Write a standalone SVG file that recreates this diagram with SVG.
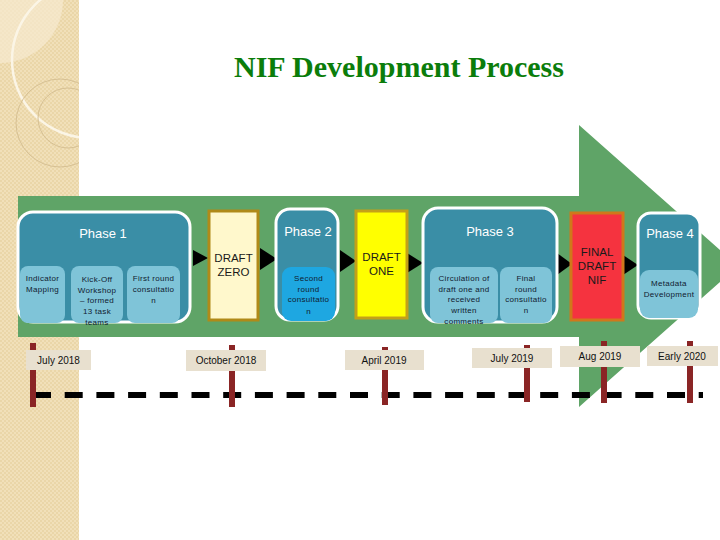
<svg xmlns="http://www.w3.org/2000/svg" width="720" height="540" viewBox="0 0 720 540">
<defs>
<pattern id="weave" width="4" height="4" patternUnits="userSpaceOnUse">
<rect width="4" height="4" fill="#f1e0b9"/>
<rect width="2" height="2" fill="#ead6a8"/>
<rect x="2" y="2" width="2" height="2" fill="#ead6a8"/>
</pattern>
<clipPath id="side"><rect x="0" y="0" width="79" height="540"/></clipPath>
<style>
.phase{fill:#3a8ea6;stroke:#ffffff;stroke-width:3}
.sub{fill:#7fc4d8}
.subb{fill:#1ea7e1}
.ptitle{font-family:"Liberation Sans",Arial,sans-serif;font-size:13px;fill:#ffffff;text-anchor:middle}
.st{font-family:"Liberation Sans",Arial,sans-serif;font-size:8px;letter-spacing:0.3px;fill:#102030;text-anchor:middle}
.draft{font-family:"Liberation Sans",Arial,sans-serif;font-size:11.5px;fill:#1a1a1a;text-anchor:middle}
.date{font-family:"Liberation Sans",Arial,sans-serif;font-size:10px;fill:#111111;text-anchor:middle}
.lbl{fill:#e8e0cf}
.post{fill:#8a2525}
.tri{fill:#000000}
</style>
</defs>
<rect width="720" height="540" fill="#ffffff"/>
<g id="sidebar">
<rect x="0" y="0" width="79" height="540" fill="url(#weave)"/>
<g clip-path="url(#side)" fill="none">
<path d="M0,0 L63,0 A63,63 0 0 1 0,63 Z" fill="#f6ead0" opacity="0.7"/>
<circle cx="90" cy="60" r="78" stroke="#fbf5e6" stroke-width="2.5"/>
<circle cx="60" cy="123" r="44" stroke="#d6c093" stroke-width="1"/>
<circle cx="68" cy="118" r="30" stroke="#d6c093" stroke-width="1"/>
</g>
</g>
<text x="399" y="77" font-family="'Liberation Serif','Times New Roman',serif" font-weight="bold" font-size="30" fill="#0b7d0b" text-anchor="middle">NIF Development Process</text>
<polygon id="arrow" points="18,196 579,196 579,125 738,266 579,407 579,337 18,337" fill="#5fa467"/>
<g id="connectors">
<polygon class="tri" points="193,250 208,258 193,266"/>
<polygon class="tri" points="260,248 277,259 260,270"/>
<polygon class="tri" points="340,250 356,261 340,272"/>
<polygon class="tri" points="407,253 423,263 407,273"/>
<polygon class="tri" points="557,253 572,264 557,275"/>
<polygon class="tri" points="623,255 638,265 623,275"/>
</g>
<g id="phase1">
<rect class="phase" x="18" y="212" width="172" height="110" rx="15"/>
<text class="ptitle" x="103" y="238">Phase 1</text>
</g>
<g id="indicator-mapping">
<rect class="sub" x="20" y="266" width="45" height="57" rx="8"/>
<text class="st" x="42.5" y="281">Indicator</text>
<text class="st" x="42.5" y="292">Mapping</text>
</g>
<g id="kick-off">
<rect class="sub" x="71" y="266" width="52" height="57" rx="8"/>
<text class="st" x="97" y="282">Kick-Off</text>
<text class="st" x="97" y="293">Workshop</text>
<text class="st" x="97" y="303">– formed</text>
<text class="st" x="97" y="314">13 task</text>
<text class="st" x="97" y="325">teams</text>
</g>
<g id="first-round">
<rect class="sub" x="127" y="266" width="53" height="57" rx="8"/>
<text class="st" x="153.5" y="281">First round</text>
<text class="st" x="153.5" y="292">consultatio</text>
<text class="st" x="153.5" y="303">n</text>
</g>
<g id="draft-zero">
<rect x="209" y="211" width="49" height="109" fill="#fff8cc" stroke="#b08a18" stroke-width="3"/>
<text class="draft" x="233.5" y="262">DRAFT</text>
<text class="draft" x="233.5" y="276">ZERO</text>
</g>
<g id="phase2">
<rect class="phase" x="276" y="209" width="62" height="111" rx="14"/>
<text class="ptitle" x="308" y="236">Phase 2</text>
<rect class="subb" x="282" y="267" width="53" height="54" rx="9"/>
<text class="st" x="308.5" y="281" fill="#1a2a5a">Second</text>
<text class="st" x="308.5" y="292">round</text>
<text class="st" x="308.5" y="302">consultatio</text>
<text class="st" x="308.5" y="314">n</text>
</g>
<g id="draft-one">
<rect x="356" y="211" width="51" height="107" fill="#ffff00" stroke="#c4a018" stroke-width="3"/>
<text class="draft" x="381.5" y="261">DRAFT</text>
<text class="draft" x="381.5" y="275">ONE</text>
</g>
<g id="phase3">
<rect class="phase" x="423" y="208" width="134" height="114" rx="15"/>
<text class="ptitle" x="490" y="236">Phase 3</text>
</g>
<g id="circulation">
<rect class="sub" x="430" y="267" width="68" height="56" rx="8"/>
<text class="st" x="464" y="281">Circulation of</text>
<text class="st" x="464" y="292">draft one and</text>
<text class="st" x="464" y="302">received</text>
<text class="st" x="464" y="313">written</text>
<text class="st" x="464" y="324">comments</text>
</g>
<g id="final-round">
<rect class="sub" x="500" y="267" width="52" height="56" rx="8"/>
<text class="st" x="526" y="281">Final</text>
<text class="st" x="526" y="292">round</text>
<text class="st" x="526" y="302">consultatio</text>
<text class="st" x="526" y="313">n</text>
</g>
<g id="final-draft">
<rect x="571" y="213" width="52" height="107" fill="#f5333f" stroke="#d0781a" stroke-width="3"/>
<text class="draft" x="597" y="256" fill="#fbe3e3">FINAL</text>
<text class="draft" x="597" y="270" fill="#fbe3e3">DRAFT</text>
<text class="draft" x="597" y="284" fill="#fbe3e3">NIF</text>
</g>
<g id="phase4">
<rect class="phase" x="638" y="213" width="62" height="105" rx="13"/>
<text class="ptitle" x="670" y="238">Phase 4</text>
<rect class="sub" x="640" y="270" width="58" height="48" rx="9"/>
<text class="st" x="669" y="286">Metadata</text>
<text class="st" x="669" y="297">Development</text>
</g>
<g id="timeline">
<line x1="36" y1="395" x2="703" y2="395" stroke="#000000" stroke-width="6" stroke-dasharray="18 13.7" stroke-dashoffset="3"/>
<rect class="post" x="30" y="343" width="6" height="64"/>
<rect class="post" x="229" y="345" width="6" height="62"/>
<rect class="post" x="382" y="347" width="6" height="58"/>
<rect class="post" x="524" y="345" width="6" height="57"/>
<rect class="post" x="601" y="341" width="6" height="62"/>
<rect class="post" x="687" y="341" width="6" height="62"/>
</g>
<g id="date-july-2018"><rect class="lbl" x="26" y="350" width="65" height="20"/><text class="date" x="58.5" y="364">July 2018</text></g>
<g id="date-oct-2018"><rect class="lbl" x="186" y="350" width="80" height="21"/><text class="date" x="226" y="364">October 2018</text></g>
<g id="date-apr-2019"><rect class="lbl" x="345" y="350" width="79" height="20"/><text class="date" x="384" y="364">April 2019</text></g>
<g id="date-jul-2019"><rect class="lbl" x="472" y="348" width="80" height="20"/><text class="date" x="512" y="362">July 2019</text></g>
<g id="date-aug-2019"><rect class="lbl" x="560" y="346" width="80" height="21"/><text class="date" x="600" y="360">Aug 2019</text></g>
<g id="date-early-2020"><rect class="lbl" x="647" y="346" width="71" height="20"/><text class="date" x="682" y="360">Early 2020</text></g>
</svg>
